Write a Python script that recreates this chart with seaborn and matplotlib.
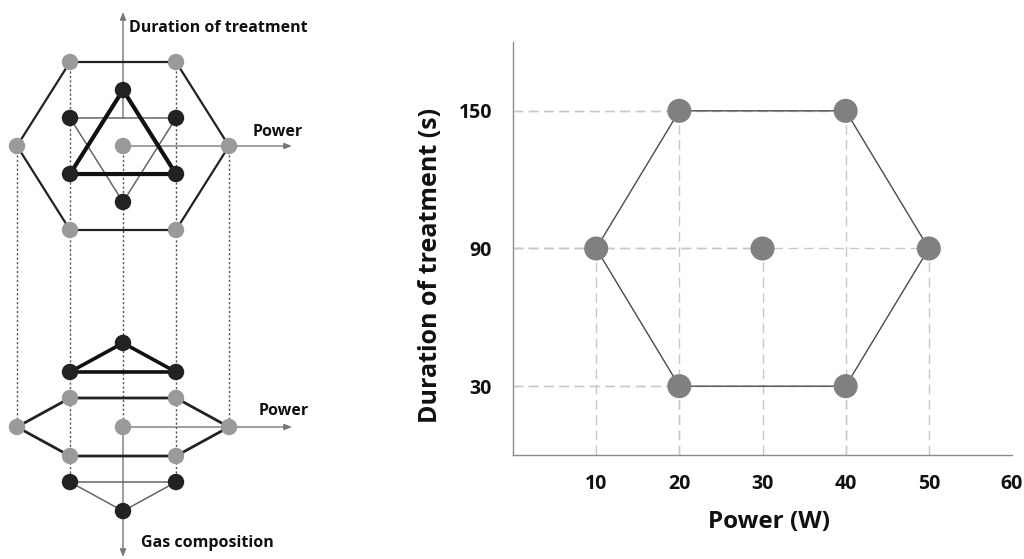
import numpy as np
import pandas as pd
import matplotlib
matplotlib.use("Agg")
import matplotlib.pyplot as plt
import seaborn as sns

# ---------------- data ----------------
# Right panel: experimental points (Doehlert design, 2 factors)
power_w = [10, 20, 30, 40, 50, 20, 40]
duration_s = [90, 150, 90, 150, 90, 30, 30]
# hexagon outline order (indices into the arrays above)
hex_order = [1, 3, 4, 6, 5, 0, 1]
x_ticks = [10, 20, 30, 40, 50, 60]
y_ticks = [30, 90, 150]

# Left panel: 3-factor Doehlert design in coded units
doe_power = [0, 1, -1, 0.5, -0.5, 0.5, -0.5, 0.5, -0.5, 0, 0.5, -0.5, 0]
doe_duration = [0, 0, 0, 0.866, 0.866, -0.866, -0.866, 0.289, 0.289, -0.577, -0.289, -0.289, 0.577]
doe_gas = [0, 0, 0, 0, 0, 0, 0, 0.816, 0.816, 0.816, -0.816, -0.816, -0.816]

# ---------------- style ----------------
sns.set_style("white")
plt.rcParams["font.family"] = ["Open Sans", "DejaVu Sans"]

fig = plt.figure(figsize=(10.24, 5.59), dpi=100)

# ================= left schematic =================
axl = fig.add_axes([0, 0, 330 / 1024, 1])

df = pd.DataFrame({"p": doe_power, "d": doe_duration, "g": doe_gas})
# projections (layout): top view (power vs duration) and oblique lower view
cx, cy_top, cy_bot = 123, 146, 427
sx, sy_top, sg, sd = 106, 97, 79.3, 33.5
df["X"] = cx + sx * df["p"]
df["Yt"] = cy_top - sy_top * df["d"]
df["Yb"] = cy_bot + sg * df["g"] - sd * df["d"]
df["kind"] = np.where(df["g"] == 0, "mid", "outer")

dot_kw = dict(color="#555555", lw=1.0, ls=(0, (1.6, 1.6)), zorder=1)
# dotted projection lines
for pv in sorted(set(doe_power)):
    sub = df[df["p"] == pv]
    if pv == 0:
        y0, y1 = cy_top, cy_bot
    else:
        y0, y1 = sub["Yt"].min(), sub["Yb"].max()
    axl.plot([cx + sx * pv] * 2, [y0, y1], **dot_kw)

# axes arrows
arr = dict(arrowstyle="-|>,head_length=0.45,head_width=0.18", color="#777777", lw=1.0,
           shrinkA=0, shrinkB=0)
axl.annotate("", xy=(cx, 12), xytext=(cx, cy_top - sy_top * 0.289), arrowprops=arr, zorder=2)
axl.annotate("", xy=(292, cy_top), xytext=(cx, cy_top), arrowprops=arr, zorder=2)
axl.annotate("", xy=(292, cy_bot), xytext=(cx, cy_bot), arrowprops=arr, zorder=2)
axl.annotate("", xy=(cx, 557), xytext=(cx, cy_bot), arrowprops=arr, zorder=2)

ring = df[df["g"] == 0].iloc[[3, 1, 5, 6, 2, 4, 3]]  # hexagon order
tri_lo = df[df["g"] < 0]
tri_hi = df[df["g"] > 0]

def closed(sub, col):
    return list(sub["X"]) + [sub["X"].iloc[0]], list(sub[col]) + [sub[col].iloc[0]]

# top view
axl.plot(ring["X"], ring["Yt"], color="#222222", lw=1.6, zorder=3)
xs, ys = closed(tri_hi, "Yt")
axl.plot(xs, ys, color="#666666", lw=1.1, zorder=3)
xs, ys = closed(tri_lo, "Yt")
axl.plot(xs, ys, color="#111111", lw=3.0, zorder=3)
# lower view
axl.plot(ring["X"], ring["Yb"], color="#222222", lw=2.0, zorder=3)
xs, ys = closed(tri_hi, "Yb")
axl.plot(xs, ys, color="#666666", lw=1.1, zorder=3)
xs, ys = closed(tri_lo, "Yb")
axl.plot(xs, ys, color="#111111", lw=2.6, zorder=3)

pal = {"mid": "#9a9a9a", "outer": "#222222"}
for col in ["Yt", "Yb"]:
    sns.scatterplot(data=df, x="X", y=col, hue="kind", palette=pal, s=140,
                    edgecolor="none", legend=False, ax=axl, zorder=4)
axl.set_xlim(0, 330)
axl.set_ylim(559, 0)
axl.axis("off")

tkw = dict(fontsize=11.5, fontweight="bold", color="#111111", va="center", ha="left")
axl.text(129, 28, "Duration of treatment", **tkw)
axl.text(253, 132, "Power", **tkw)
axl.text(259, 411, "Power", **tkw)
axl.text(141, 543, "Gas composition", **tkw)

# ================= right chart =================
ax = fig.add_axes([513 / 1024, (559 - 455) / 559, (1012 - 513) / 1024, (455 - 42) / 559])
ax.set_xlim(0, 60)
ax.set_ylim(0, 180)

grid_kw = dict(color="#c8c8c8", lw=1.0, ls=(0, (7, 4)), zorder=1)
ax.hlines(duration_s, 0, power_w, **grid_kw)
ax.vlines(power_w, 0, duration_s, **grid_kw)

hx = [power_w[i] for i in hex_order]
hy = [duration_s[i] for i in hex_order]
sns.lineplot(x=hx, y=hy, sort=False, estimator=None, color="#4a4a4a", lw=1.0, ax=ax, zorder=2)
sns.scatterplot(x=power_w, y=duration_s, color="#808080", s=300, edgecolor="none", ax=ax, zorder=3)

for s in ["top", "right"]:
    ax.spines[s].set_visible(False)
for s in ["left", "bottom"]:
    ax.spines[s].set_color("#8c8c8c")
    ax.spines[s].set_linewidth(1.0)

ax.set_xticks(x_ticks)
ax.set_yticks(y_ticks)
ax.set_xticks([0, 60], minor=True)
ax.set_yticks([0, 60, 120, 180], minor=True)
ax.tick_params(axis="both", which="major", length=0, labelsize=14, colors="#111111")
ax.tick_params(axis="x", which="major", pad=14)
ax.tick_params(axis="y", which="major", pad=15)
ax.tick_params(axis="both", which="minor", length=7, width=1, color="#8c8c8c", direction="out")
for lab in ax.get_xticklabels() + ax.get_yticklabels():
    lab.set_fontweight("bold")

ax.set_xlabel("Power (W)", fontsize=17.5, fontweight="bold", color="#111111", va="center")
ax.set_ylabel("Duration of treatment (s)", fontsize=18, fontweight="bold", color="#111111",
              va="center")
ax.xaxis.set_label_coords(0.513, -0.162)
ax.yaxis.set_label_coords(-0.166, 0.458)

fig.savefig("out.png", dpi=100)
